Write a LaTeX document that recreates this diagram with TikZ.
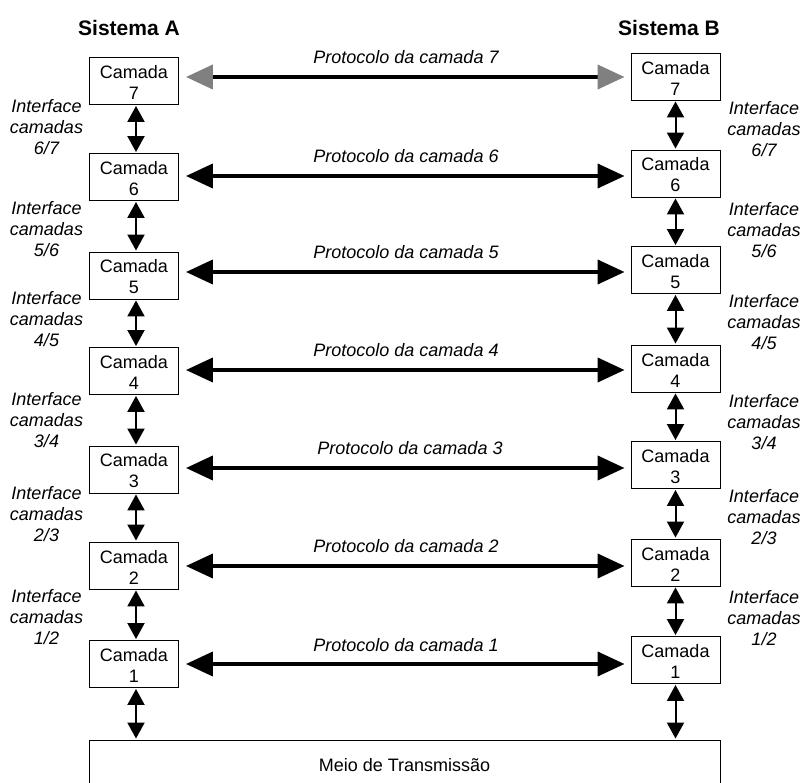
\documentclass[tikz,border=0pt]{standalone}
\usepackage{fontspec}
\setmainfont{Liberation Sans}
\usetikzlibrary{arrows.meta,calc}
\definecolor{tipgray}{RGB}{128,128,128}
\begin{document}
\begin{tikzpicture}[x=1pt,y=-1pt,
  layer/.style={draw,line width=0.9pt,minimum width=89pt,minimum height=47pt,inner sep=0pt,
    label={[align=center,inner sep=0pt,font=\fontsize{18}{21}\selectfont,yshift=-1.5pt]center:Camada\\#1}},
  sysname/.style={font=\fontsize{21}{25}\selectfont\bfseries},
  iflabel/.style={align=center,inner sep=0pt,font=\fontsize{18}{21}\selectfont\itshape},
  protolabel/.style={anchor=base,inner sep=0pt,font=\fontsize{18}{22}\selectfont\itshape},
  proto/.style={line width=4pt,{Triangle[length=27pt,width=24pt]}-{Triangle[length=27pt,width=24pt]}},
  protogray/.style={line width=4pt,{Triangle[length=27pt,width=24pt,color=tipgray]}-{Triangle[length=27pt,width=24pt,color=tipgray]}},
  iface/.style={line width=2pt,{Triangle[length=16pt,width=17pt]}-{Triangle[length=16pt,width=17pt]},
    shorten <=1pt,shorten >=1pt},
]
\useasboundingbox (0,0) rectangle (804,783);
\clip (0,0) rectangle (804,783);

% system titles
\node[sysname] (sA) at (129,28) {Sistema A};
\node[sysname] (sB) at (669,28) {Sistema B};

% layer stacks
\node[layer=7] (L7) at (134,81) {};
\node[layer=6] (L6) at (134,177) {};
\node[layer=5] (L5) at (134,275.5) {};
\node[layer=4] (L4) at (134,371) {};
\node[layer=3] (L3) at (134,469.5) {};
\node[layer=2] (L2) at (134,565.5) {};
\node[layer=1] (L1) at (134,664) {};

\node[layer=7] (R7) at (675.5,76.5) {};
\node[layer=6] (R6) at (675.5,173.5) {};
\node[layer=5] (R5) at (675.5,270) {};
\node[layer=4] (R4) at (675.5,368.5) {};
\node[layer=3] (R3) at (675.5,465) {};
\node[layer=2] (R2) at (675.5,562.5) {};
\node[layer=1] (R1) at (675.5,660) {};

% physical medium
\node[draw,line width=0.9pt,minimum width=631pt,minimum height=50pt,inner sep=0pt,
  font=\fontsize{18}{22}\selectfont] (meio) at (404.5,765) {Meio de Transmissão};

% heights of the peer protocol arrows
\coordinate (h7) at (0,77);
\coordinate (h6) at (0,176);
\coordinate (h5) at (0,272);
\coordinate (h4) at (0,370);
\coordinate (h3) at (0,468);
\coordinate (h2) at (0,566);
\coordinate (h1) at (0,664);

% peer protocols
\draw[protogray] ($(L7.east |- h7)+(7,0)$) -- ($(R7.west |- h7)+(-6,0)$);
\foreach \i in {6,...,1}{
  \draw[proto] ($(L\i.east |- h\i)+(7,0)$) -- ($(R\i.west |- h\i)+(-6,0)$);
}
\node[protolabel] (p7) at (406,64) {Protocolo da camada 7};
\node[protolabel] (p6) at (406,163) {Protocolo da camada 6};
\node[protolabel] (p5) at (406,259) {Protocolo da camada 5};
\node[protolabel] (p4) at (406,357) {Protocolo da camada 4};
\node[protolabel] (p3) at (410,455) {Protocolo da camada 3};
\node[protolabel] (p2) at (406,553) {Protocolo da camada 2};
\node[protolabel] (p1) at (406,651) {Protocolo da camada 1};

% interfaces between adjacent layers
\foreach \u/\d in {7/6,6/5,5/4,4/3,3/2,2/1}{
  \draw[iface] ($(L\u.south)+(2,0)$) -- ($(L\d.north)+(2,0)$);
  \draw[iface] (R\u.south) -- (R\d.north);
}
\draw[iface] ($(L1.south)+(2,0)$) -- ($(L1.south |- meio.north)+(2,0)$);
\draw[iface] (R1.south) -- (R1.south |- meio.north);

% interface labels
\node[iflabel] (iA67) at (46.5,127) {Interface\\camadas\\6/7};
\node[iflabel] (iA56) at (46.5,229) {Interface\\camadas\\5/6};
\node[iflabel] (iA45) at (46.5,319) {Interface\\camadas\\4/5};
\node[iflabel] (iA34) at (46.5,420) {Interface\\camadas\\3/4};
\node[iflabel] (iA23) at (46.5,514) {Interface\\camadas\\2/3};
\node[iflabel] (iA12) at (46.5,617) {Interface\\camadas\\1/2};

\node[iflabel] (iB67) at (764,129) {Interface\\camadas\\6/7};
\node[iflabel] (iB56) at (764,230) {Interface\\camadas\\5/6};
\node[iflabel] (iB45) at (764,322) {Interface\\camadas\\4/5};
\node[iflabel] (iB34) at (764,422) {Interface\\camadas\\3/4};
\node[iflabel] (iB23) at (764,517) {Interface\\camadas\\2/3};
\node[iflabel] (iB12) at (764,618) {Interface\\camadas\\1/2};
\end{tikzpicture}
\end{document}
